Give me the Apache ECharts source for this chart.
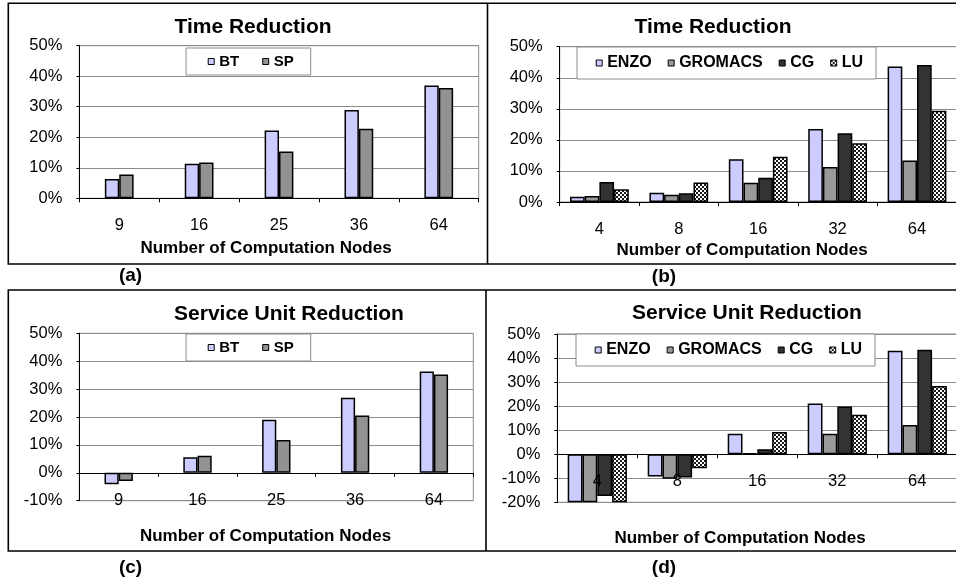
<!DOCTYPE html>
<html>
<head>
<meta charset="utf-8">
<script src="https://cdn.jsdelivr.net/npm/echarts@6/dist/echarts.min.js"></script>
<style>
  html, body { margin: 0; padding: 0; background: #fff; }
  #chart { width: 956px; height: 583px; }
</style>
</head>
<body>
<div id="chart"></div>
<script>
// Category labels (number of computation nodes)
const nodesNPB = ['9', '16', '25', '36', '64'];
const nodesApps = ['4', '8', '16', '32', '64'];

// (a) Time reduction, %
const timeBT = [6.3, 11.3, 22.2, 28.9, 37.0];
const timeSP = [7.8, 11.7, 15.3, 22.8, 36.1];

// (b) Time reduction, %
const timeENZO = [1.7, 3.0, 13.8, 23.5, 43.6];
const timeGROMACS = [1.9, 2.3, 6.2, 11.3, 13.4];
const timeCG = [6.4, 2.8, 7.8, 22.1, 44.1];
const timeLU = [4.1, 6.3, 14.6, 18.9, 29.4];

// (c) Service unit reduction, %
const suBT = [-4.1, 5.6, 19.0, 26.9, 36.3];
const suSP = [-2.9, 6.1, 11.8, 20.5, 35.2];

// (d) Service unit reduction, %
const suENZO = [-20, -9.3, 8.5, 21.1, 43.0];
const suGROMACS = [-20, -10.2, 0.4, 8.5, 12.2];
const suCG = [-17.4, -9.7, 2.1, 19.8, 43.4];
const suLU = [-20, -5.8, 9.2, 16.4, 28.4];

// value-axis ranges per panel (a, b, c, d)
const yMin = [0, 0, -10, -20];
const yMax = 50;

const FONT = '"Liberation Sans", Arial, Helvetica, sans-serif';
const GRID_GRAY = '#8c8c8c';

// checkerboard fill for the LU bars
const checker = document.createElement('canvas');
checker.width = 4; checker.height = 4;
(function () {
  const c = checker.getContext('2d');
  c.fillStyle = '#ffffff'; c.fillRect(0, 0, 4, 4);
  c.fillStyle = '#1a1a1a'; c.fillRect(0, 0, 2, 2); c.fillRect(2, 2, 2, 2);
})();

const COLORS = {
  BT: '#ccccff', SP: '#929292',
  ENZO: '#ccccff', GROMACS: '#999999', CG: '#333333',
  LU: { image: checker, repeat: 'repeat' }
};

const grids = [
  { left: 79.3, top: 45.7, width: 399.4, height: 152.6 },
  { left: 559.7, top: 46.7, width: 397, height: 155.3 },
  { left: 79.3, top: 333.3, width: 394, height: 167.4 },
  { left: 557.3, top: 334, width: 400, height: 168.3 }
];

// category axis sits on the 0% line of its panel
function xAxisFor(gi, cats) {
  const lift = grids[gi].height * (0 - yMin[gi]) / (yMax - yMin[gi]);
  return {
    type: 'category', gridIndex: gi, data: cats, z: 5, position: 'bottom', offset: -lift,
    axisLine: { show: true, onZero: false, lineStyle: { color: '#000', width: 1 } },
    axisTick: { show: true, length: 4, inside: false, lineStyle: { color: '#000' } },
    axisLabel: { margin: 19, fontSize: 16.5, color: '#000', fontFamily: FONT },
    splitLine: { show: false }
  };
}

function yAxisFor(gi) {
  return {
    type: 'value', gridIndex: gi, min: yMin[gi], max: yMax, interval: 10,
    axisLine: { show: true, onZero: false, lineStyle: { color: '#000', width: 1 } },
    axisTick: { show: true, length: 3, lineStyle: { color: '#000' } },
    axisLabel: { formatter: '{value}%', margin: 17, fontSize: 16.5, color: '#000', fontFamily: FONT },
    splitLine: { show: true, lineStyle: { color: GRID_GRAY, width: 1 } }
  };
}

function barSeries(name, data, gi, gap) {
  return {
    type: 'bar', name: name, data: data,
    xAxisIndex: gi, yAxisIndex: gi,
    barGap: '0%', barCategoryGap: gap,
    itemStyle: { color: COLORS[name], borderColor: '#000', borderWidth: 1.5 },
    emphasis: { disabled: true }
  };
}

function legendFor(names, left, top, fontSize, gap, padding) {
  return {
    data: names, left: left, top: top, orient: 'horizontal',
    icon: 'rect', itemWidth: 6, itemHeight: 6, itemGap: gap,
    padding: padding,
    backgroundColor: '#fff', borderColor: GRID_GRAY, borderWidth: 1,
    itemStyle: { borderColor: '#000', borderWidth: 1 },
    textStyle: { fontSize: fontSize, fontWeight: 'bold', color: '#000', fontFamily: FONT },
    selectedMode: false
  };
}

function titleAt(text, cx, cy) {
  return {
    text: text, left: cx, top: cy, textAlign: 'center', textVerticalAlign: 'middle', padding: 0,
    textStyle: { fontSize: 21, fontWeight: 'bold', color: '#000', fontFamily: FONT }
  };
}

function label(text, cx, cy, size) {
  return {
    type: 'text', x: cx, y: cy, silent: true,
    style: { text: text, font: 'bold ' + size + 'px ' + FONT, fill: '#000',
             textAlign: 'center', textVerticalAlign: 'middle', align: 'center', verticalAlign: 'middle' }
  };
}

const gridBase = { show: true, borderColor: GRID_GRAY, borderWidth: 1, containLabel: false, outerBoundsMode: 'none' };

const option = {
  animation: false,
  backgroundColor: '#fff',
  textStyle: { fontFamily: FONT },
  title: [
    titleAt('Time Reduction', 253, 27),
    titleAt('Time Reduction', 713, 27),
    titleAt('Service Unit Reduction', 289, 314),
    titleAt('Service Unit Reduction', 747, 313)
  ],
  legend: [
    legendFor(['BT', 'SP'], 186, 48, 15, 23, [6, 17, 6, 21.7]),
    legendFor(['ENZO', 'GROMACS', 'CG', 'LU'], 577, 47, 16, 16, [8, 13, 8, 18.7]),
    legendFor(['BT', 'SP'], 186, 334, 15, 23, [6, 17, 6, 21.7]),
    legendFor(['ENZO', 'GROMACS', 'CG', 'LU'], 576, 334, 16, 16, [8, 13, 8, 18.7])
  ],
  grid: grids.map(g => Object.assign({}, g, gridBase)),
  xAxis: [
    xAxisFor(0, nodesNPB), xAxisFor(1, nodesApps),
    xAxisFor(2, nodesNPB), xAxisFor(3, nodesApps)
  ],
  yAxis: [yAxisFor(0), yAxisFor(1), yAxisFor(2), yAxisFor(3)],
  series: [
    barSeries('BT', timeBT, 0, '64%'),
    barSeries('SP', timeSP, 0, '64%'),
    barSeries('ENZO', timeENZO, 1, '26%'),
    barSeries('GROMACS', timeGROMACS, 1, '26%'),
    barSeries('CG', timeCG, 1, '26%'),
    barSeries('LU', timeLU, 1, '26%'),
    barSeries('BT', suBT, 2, '64%'),
    barSeries('SP', suSP, 2, '64%'),
    barSeries('ENZO', suENZO, 3, '26%'),
    barSeries('GROMACS', suGROMACS, 3, '26%'),
    barSeries('CG', suCG, 3, '26%'),
    barSeries('LU', suLU, 3, '26%')
  ],
  graphic: {
    elements: [
      // panel frames
      { type: 'rect', silent: true, shape: { x: 8.3, y: 3.3, width: 960, height: 260.7 },
        style: { fill: 'none', stroke: '#000', lineWidth: 1.6 } },
      { type: 'line', silent: true, shape: { x1: 487.5, y1: 3.3, x2: 487.5, y2: 264 },
        style: { stroke: '#000', lineWidth: 1.6 } },
      { type: 'rect', silent: true, shape: { x: 8.3, y: 290, width: 960, height: 261 },
        style: { fill: 'none', stroke: '#000', lineWidth: 1.6 } },
      { type: 'line', silent: true, shape: { x1: 486, y1: 290, x2: 486, y2: 551 },
        style: { stroke: '#000', lineWidth: 1.6 } },
      // axis names
      label('Number of Computation Nodes', 266, 248, 17),
      label('Number of Computation Nodes', 742, 250.5, 17),
      label('Number of Computation Nodes', 265.5, 536, 17),
      label('Number of Computation Nodes', 740, 538, 17),
      // panel letters
      label('(a)', 130.5, 276, 19),
      label('(b)', 664, 276.5, 19),
      label('(c)', 130.5, 568, 19),
      label('(d)', 664, 568, 19)
    ]
  }
};

const chart = echarts.init(document.getElementById('chart'), null, { renderer: 'canvas' });
chart.setOption(option);
</script>
</body>
</html>
